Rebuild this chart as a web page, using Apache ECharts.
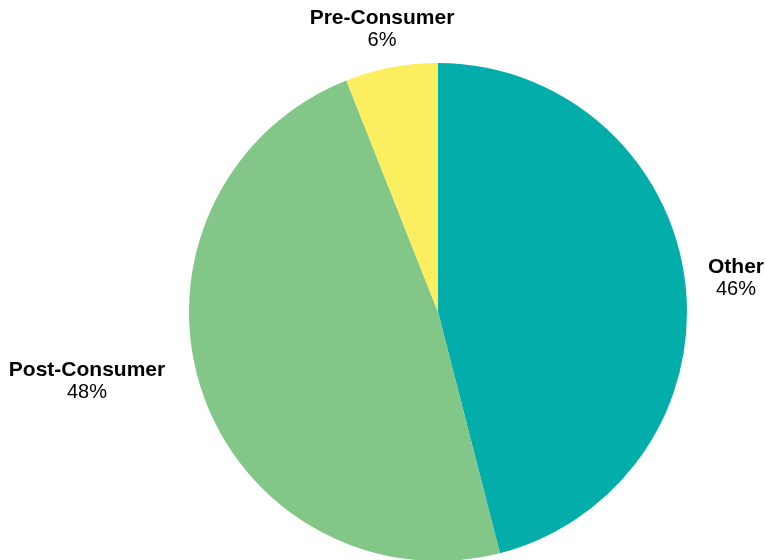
<!DOCTYPE html>
<html>
<head>
<meta charset="utf-8">
<style>
html,body{margin:0;padding:0;background:#fff;}
#chart{width:766px;height:560px;}
</style>
<script src="https://cdn.jsdelivr.net/npm/echarts@6/dist/echarts.min.js"></script>
</head>
<body>
<div id="chart"></div>
<script>
const categories = ['Other', 'Post-Consumer', 'Pre-Consumer'];
const values = [46, 48, 6];
const colors = ['#03ADA9', '#82C787', '#FBEE5F'];
// label block centres (px)
const labelPos = [[736, 278], [87, 381], [382, 29]];

const chart = echarts.init(document.getElementById('chart'), null, {renderer: 'canvas'});
chart.setOption({
  animation: false,
  series: [{
    type: 'pie',
    center: [438, 312],
    radius: 249,
    startAngle: 90,
    clockwise: true,
    data: categories.map((c, i) => ({name: c, value: values[i], itemStyle: {color: colors[i]}})),
    itemStyle: {borderWidth: 0},
    emphasis: {disabled: true},
    labelLine: {show: false},
    label: {
      show: true,
      position: 'outside',
      overflow: 'none',
      width: 300,
      formatter: '{n|{b}}\n{p|{d}%}',
      rich: {
        n: {fontFamily: 'Liberation Sans, Arial, sans-serif', fontWeight: 'bold', fontSize: 21, color: '#000', lineHeight: 22, align: 'center'},
        p: {fontFamily: 'Liberation Sans, Arial, sans-serif', fontSize: 20, color: '#000', lineHeight: 22, align: 'center'}
      }
    },
    labelLayout: function (params) {
      const p = labelPos[params.dataIndex];
      return {x: p[0], y: p[1], align: 'center', verticalAlign: 'middle'};
    }
  }]
});
</script>
</body>
</html>
